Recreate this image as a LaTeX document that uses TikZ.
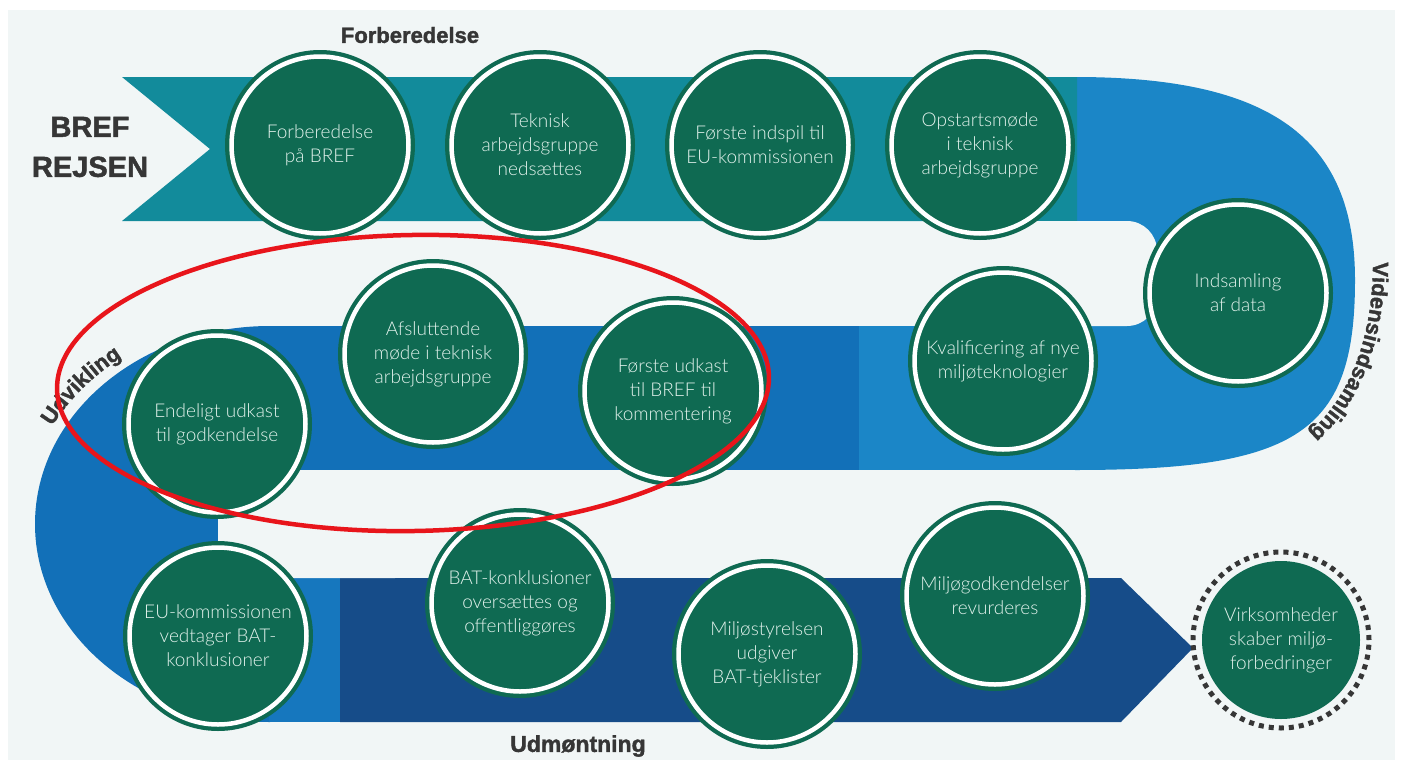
\documentclass[tikz,border=0pt]{standalone}
\usepackage{fontspec}
\setmainfont{Lato Light}
\newfontfamily\heavy{Liberation Sans}[BoldFeatures={FakeBold=1.6}]
\usetikzlibrary{decorations.text}
\definecolor{bgc}{HTML}{F1F6F6}
\definecolor{teal1}{HTML}{128B9B}
\definecolor{lblue}{HTML}{1B86C7}
\definecolor{dblue}{HTML}{1270B8}
\definecolor{mblue}{HTML}{1677BE}
\definecolor{navy}{HTML}{164C89}
\definecolor{green1}{HTML}{0F6A52}
\definecolor{txt}{HTML}{E2F2EC}
\definecolor{lab}{HTML}{363636}
\definecolor{red1}{HTML}{E8151B}
\tikzset{
  stage/.style={circle, fill=green1, minimum size=190pt, inner sep=0pt, text=txt,
    align=center, font=\fontsize{19}{24}\selectfont,
    path picture={\draw[white, line width=4.5pt] (path picture bounding box.center) circle[radius=88.5pt];}},
  finalstage/.style={circle, fill=green1, minimum size=158pt, inner sep=0pt, text=txt,
    align=center, font=\fontsize{19}{24}\selectfont},
  dotring/.style={draw=lab, line width=5pt, dash pattern=on 5.03pt off 5.03pt},
  lbl/.style={text=lab, font=\heavy\bfseries\fontsize{22}{22}\selectfont},
  bigtitle/.style={text=lab, align=center, font=\heavy\bfseries\fontsize{29}{40}\selectfont},
}
\begin{document}
\begin{tikzpicture}[x=1pt,y=1pt]
\useasboundingbox (0,0) rectangle (1401,-766);
\fill[white] (0,0) rectangle (1401,-766);
\fill[bgc] (8,-10) rectangle (1395,-760);
% --- snake band ---
\fill[lblue] (1075,-77) .. controls (1271,-77) and (1355,-138) .. (1355,-280)
   .. controls (1355,-432) and (1299,-470) .. (1075,-470) -- cycle;
\fill[teal1] (122,-77) -- (1077,-77) -- (1077,-221) -- (122,-221) -- (210,-149) -- cycle;
\fill[lblue] (858,-326) rectangle (1076,-470);
\fill[dblue] (269,-326) rectangle (859,-470);
\fill[dblue] (270,-326) arc[start angle=90, end angle=270, x radius=235, y radius=198] -- cycle;
\fill[mblue] (269,-578) rectangle (341,-722);
\fill[navy] (340,-578) -- (1121,-578) -- (1193,-648) -- (1121,-722) -- (340,-722) -- cycle;
\fill[bgc, rounded corners=30pt] (1000,-221) rectangle (1157,-326);
\fill[bgc, rounded corners=25pt] (218,-470) rectangle (420,-578);
% --- labels ---
\node[bigtitle] (title) at (90,-147) {BREF\\REJSEN};
\node[lbl] (forb) at (410,-35) {Forberedelse};
\node[lbl, font=\heavy\bfseries\fontsize{23}{23}\selectfont] (udm) at (578,-746) {Udmøntning};
\path[decorate, decoration={text along path, text align=left, text color=lab,
  text={|\heavy\bfseries\fontsize{22}{22}\selectfont|Vidensindsamling}}]
  (1373,-262) .. controls (1373,-345) and (1345,-415) .. (1285,-450);
\path[decorate, decoration={text along path, text align=center, text color=lab,
  text={|\heavy\bfseries\fontsize{22}{22}\selectfont|Udvikling}}]
  ([shift={(270,-524.5)}]165:247 and 209) arc[start angle=165, end angle=115, x radius=247, y radius=209];
% --- stages ---
\node[stage] (c1) at (320,-145) {Forberedelse\\på BREF};
\node[stage] (c2) at (540,-145) {Teknisk\\arbejdsgruppe\\nedsættes};
\node[stage] (c3) at (760,-145) {Første indspil til\\EU-kommissionen};
\node[stage] (c4) at (980,-145) {Opstartsmøde\\i teknisk\\arbejdsgruppe};
\node[stage] (c5) at (1238,-293) {Indsamling\\af data};
\node[stage] (c6) at (1003,-361) {Kvalificering af nye\\miljøteknologier};
\node[stage] (c7) at (673,-391) {Første udkast\\til BREF til\\kommentering};
\node[stage] (c8) at (433,-354) {Afsluttende\\møde i teknisk\\arbejdsgruppe};
\node[stage] (c9) at (217,-424) {Endeligt udkast\\til godkendelse};
\node[stage] (c10) at (218,-636) {EU-kommissionen\\vedtager BAT-\\konklusioner};
\node[stage] (c11) at (520,-603) {BAT-konklusioner\\oversættes og\\offentliggøres};
\node[stage] (c12) at (767,-654) {Miljøstyrelsen\\udgiver\\BAT-tjeklister};
\node[stage] (c13) at (995,-596) {Miljøgodkendelser\\revurderes};
\node[finalstage] (c14) at (1281,-640) {Virksomheder\\skaber miljø-\\forbedringer};
\draw[dotring] (c14.center) circle[radius=88];
% --- red highlight ---
\draw[red1, line width=4.5pt, rotate around={1:(413,-383)}] (413,-383) ellipse[x radius=356, y radius=148];
\end{tikzpicture}
\end{document}
